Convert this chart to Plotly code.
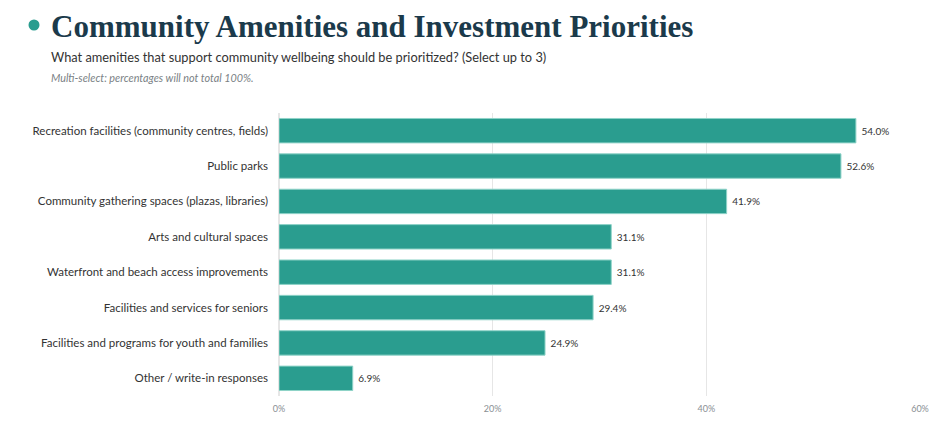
import plotly.graph_objects as go

categories = [
    "Recreation facilities (community centres, fields)",
    "Public parks",
    "Community gathering spaces (plazas, libraries)",
    "Arts and cultural spaces",
    "Waterfront and beach access improvements",
    "Facilities and services for seniors",
    "Facilities and programs for youth and families",
    "Other / write-in responses",
]
values = [54.0, 52.6, 41.9, 31.1, 31.1, 29.4, 24.9, 6.9]
tick_values = [0, 20, 40, 60]
tick_labels = ["0%", "20%", "40%", "60%"]

TEAL = "#2a9d8f"
NAVY = "#1b3a4b"
BODY_FONT = "Lato, Open Sans, sans-serif"

# plot area is 641 x 283 px; header items are placed relative to it
PW, PH = 641, 283

fig = go.Figure()
fig.add_trace(
    go.Bar(
        x=values,
        y=categories,
        orientation="h",
        marker=dict(color=TEAL, line=dict(color="#8fd3c8", width=1)),
        texttemplate="\u00a0%{x:.1f}%",
        textposition="outside",
        textfont=dict(size=10, color="#333333", family=BODY_FONT),
        cliponaxis=False,
        hovertemplate="%{y}: %{x:.1f}%<extra></extra>",
    )
)

fig.update_layout(
    width=944,
    height=430,
    margin=dict(l=271, r=32, t=105, b=42),
    paper_bgcolor="white",
    plot_bgcolor="white",
    bargap=0.31,
    showlegend=False,
    font=dict(family=BODY_FONT, color="#333333"),
    xaxis=dict(
        range=[0, 60],
        tickvals=tick_values,
        ticktext=tick_labels,
        showgrid=True,
        gridcolor="#e6e6e6",
        gridwidth=1,
        zeroline=True,
        zerolinecolor="#e6e6e6",
        tickfont=dict(size=9, color="#8a8f94"),
        ticks="",
        ticklabelstandoff=6,
        showline=False,
        fixedrange=True,
    ),
    yaxis=dict(
        autorange="reversed",
        tickfont=dict(size=11.5, color="#333333"),
        ticks="",
        ticklabelstandoff=10,
        showline=False,
        fixedrange=True,
    ),
)

# title block (kept a few px lower so the big title is not clipped at the top)
fig.add_shape(
    type="circle",
    xref="paper", yref="paper",
    xsizemode="pixel", ysizemode="pixel",
    xanchor=-245 / PW, yanchor=1 + 88 / PH,
    x0=-5.5, x1=5.5, y0=-5.5, y1=5.5,
    fillcolor=TEAL, line=dict(width=0),
)
fig.add_annotation(
    xref="paper", yref="paper", x=-230 / PW, y=1 + 87 / PH,
    xanchor="left", yanchor="middle", showarrow=False,
    text="<b>Community Amenities and Investment Priorities</b>",
    font=dict(size=31, color=NAVY, family="Liberation Serif, DejaVu Serif, serif"),
)
fig.add_annotation(
    xref="paper", yref="paper", x=-230 / PW, y=1 + 56 / PH,
    xanchor="left", yanchor="middle", showarrow=False,
    text="What amenities that support community wellbeing should be prioritized? (Select up to 3)",
    font=dict(size=12.8, color="#333333", family=BODY_FONT),
)
fig.add_annotation(
    xref="paper", yref="paper", x=-230 / PW, y=1 + 36 / PH,
    xanchor="left", yanchor="middle", showarrow=False,
    text="<i>Multi-select: percentages will not total 100%.</i>",
    font=dict(size=10.8, color="#7a7f85", family=BODY_FONT),
)

fig.write_html("out.html")
